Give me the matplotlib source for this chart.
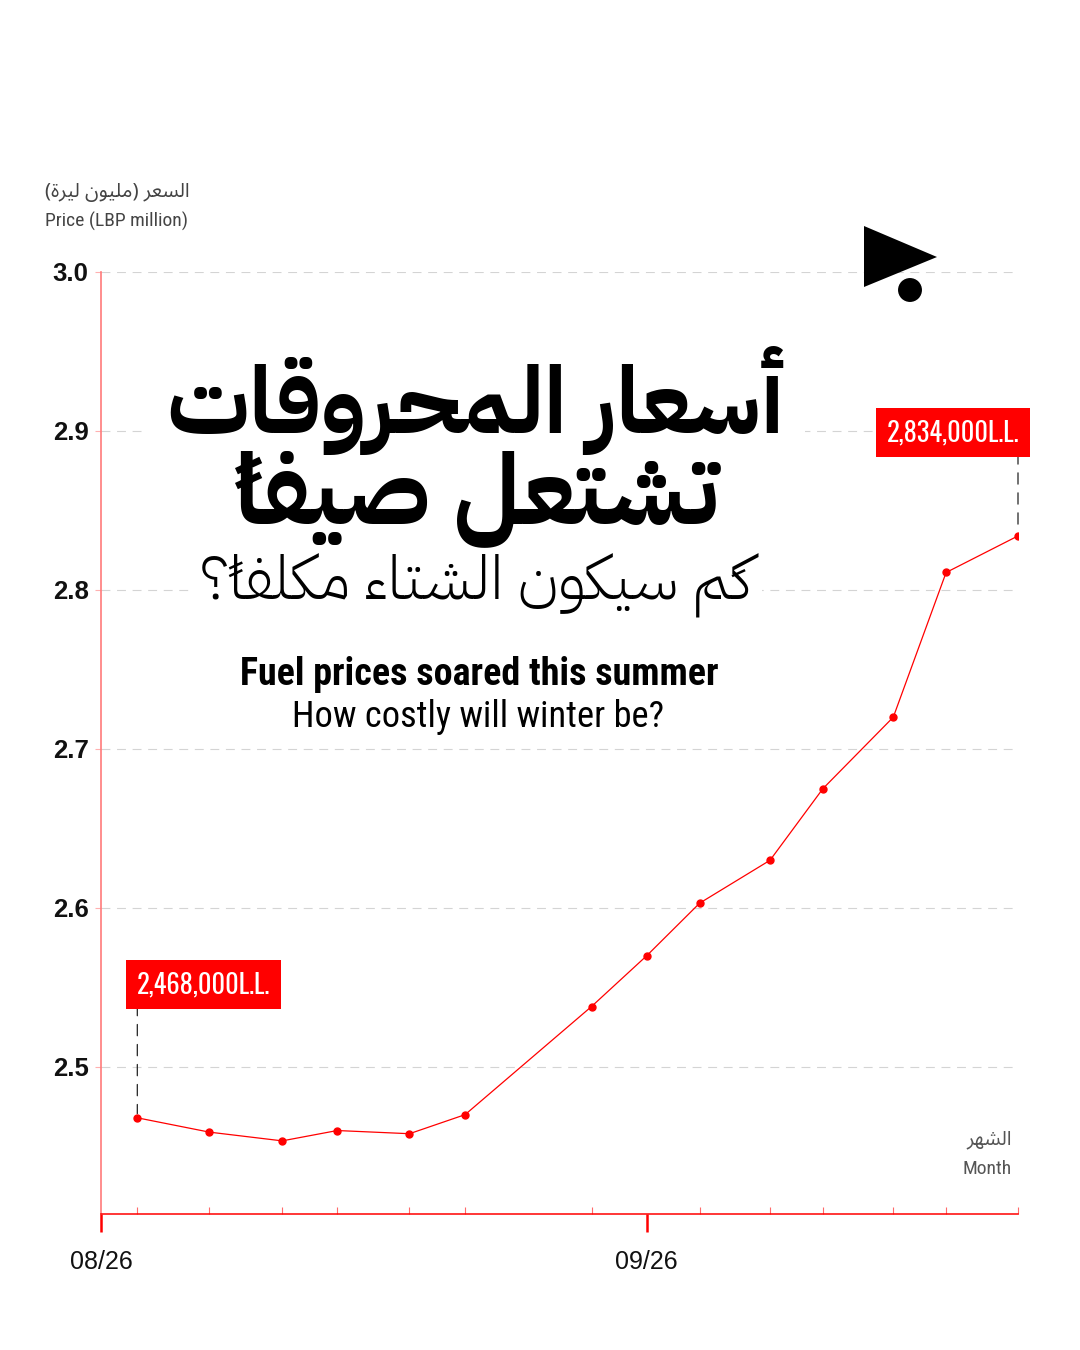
import matplotlib
matplotlib.use("Agg")
import matplotlib.pyplot as plt
import matplotlib.dates as mdates
from matplotlib.patches import Polygon, Circle, Rectangle
from matplotlib.ticker import FixedLocator, FormatStrFormatter
import pandas as pd

# ---------------- data ----------------
dates = ["2024-08-28 01:30", "2024-09-01 03:40", "2024-09-05 07:00", "2024-09-08 10:00",
         "2024-09-12 12:30", "2024-09-15 16:20", "2024-09-22 20:40", "2024-09-26 00:00",
         "2024-09-29 00:00", "2024-10-03 00:00", "2024-10-06 00:00", "2024-10-10 00:00",
         "2024-10-13 00:00", "2024-10-17 02:00"]
prices = [2.468, 2.459, 2.4535, 2.460, 2.458, 2.470, 2.538, 2.570,
          2.603, 2.630, 2.675, 2.720, 2.811, 2.834]
x_start = "2024-08-26"
major_dates = ["2024-08-26", "2024-09-26"]
y_ticks = [2.5, 2.6, 2.7, 2.8, 2.9, 3.0]
y_min, y_max = 2.4075, 3.0

title_ar_1 = "أسعار المحروقات"
title_ar_2 = "تشتعل صيفاً"
subtitle_ar = "كَم سيكون الشتاء مكلفاً؟"
title_en = "Fuel prices soared this summer"
subtitle_en = "How costly will winter be?"
ylabel_ar = "السعر (مليون ليرة)"
ylabel_en = "Price (LBP million)"
xlabel_ar = "الشهر"
xlabel_en = "Month"

RED = "#ff0000"

# ---------------- minimal Arabic shaping (presentation forms) ----------------
_FORMS = {
    '\u0621': (0xFE80, 1), '\u0622': (0xFE81, 2), '\u0623': (0xFE83, 2), '\u0624': (0xFE85, 2),
    '\u0625': (0xFE87, 2), '\u0626': (0xFE89, 4), '\u0627': (0xFE8D, 2), '\u0628': (0xFE8F, 4),
    '\u0629': (0xFE93, 2), '\u062A': (0xFE95, 4), '\u062B': (0xFE99, 4), '\u062C': (0xFE9D, 4),
    '\u062D': (0xFEA1, 4), '\u062E': (0xFEA5, 4), '\u062F': (0xFEA9, 2), '\u0630': (0xFEAB, 2),
    '\u0631': (0xFEAD, 2), '\u0632': (0xFEAF, 2), '\u0633': (0xFEB1, 4), '\u0634': (0xFEB5, 4),
    '\u0635': (0xFEB9, 4), '\u0636': (0xFEBD, 4), '\u0637': (0xFEC1, 4), '\u0638': (0xFEC5, 4),
    '\u0639': (0xFEC9, 4), '\u063A': (0xFECD, 4), '\u0641': (0xFED1, 4), '\u0642': (0xFED5, 4),
    '\u0643': (0xFED9, 4), '\u0644': (0xFEDD, 4), '\u0645': (0xFEE1, 4), '\u0646': (0xFEE5, 4),
    '\u0647': (0xFEE9, 4), '\u0648': (0xFEED, 2), '\u0649': (0xFEEF, 2), '\u064A': (0xFEF1, 4),
}
_LAMALEF = {'\u0622': 0xFEF5, '\u0623': 0xFEF7, '\u0625': 0xFEF9, '\u0627': 0xFEFB}
_MIRROR = {'(': ')', ')': '('}


def _is_mark(c):
    return '\u064B' <= c <= '\u0652' or c == '\u0670'


def shape_ar(text):
    clusters = []
    for c in text:
        if _is_mark(c) and clusters:
            clusters[-1][1].append(c)
        else:
            clusters.append([c, []])
    out = []
    prev_joins = False
    i, n = 0, len(clusters)
    while i < n:
        c, marks = clusters[i]
        if c == '\u0644' and i + 1 < n and clusters[i + 1][0] in _LAMALEF:
            g = _LAMALEF[clusters[i + 1][0]] + (1 if prev_joins else 0)
            out.append((chr(g), marks + clusters[i + 1][1]))
            prev_joins = False
            i += 2
            continue
        if c in _FORMS:
            base, k = _FORMS[c]
            nxt = clusters[i + 1][0] if i + 1 < n else None
            jn = k == 4 and nxt in _FORMS
            jp = prev_joins and k >= 2
            if k == 1:
                g = base
            elif k == 2:
                g = base + (1 if jp else 0)
            else:
                g = base + (3 if (jp and jn) else 1 if jp else 2 if jn else 0)
            out.append((chr(g), marks))
            prev_joins = jn
        else:
            out.append((_MIRROR.get(c, c), marks))
            prev_joins = False
        i += 1
    # visual order (left to right); marks drawn just before their base glyph
    return ''.join(''.join(m) + g for g, m in reversed(out))


# ---------------- figure ----------------
W, H, DPI = 1080, 1350, 100
fig = plt.figure(figsize=(W / DPI, H / DPI), dpi=DPI, facecolor="white")
ax = fig.add_axes([101 / W, 1 - 1214 / H, (1018 - 101) / W, (1214 - 272) / H])

x = pd.to_datetime(dates)
ax.plot(x, prices, color=RED, lw=0.9, marker="o", ms=5, mec=RED, mfc=RED, zorder=3)

ax.set_xlim(pd.Timestamp(x_start), x[-1])
ax.set_ylim(y_min, y_max)

for s in ["top", "right"]:
    ax.spines[s].set_visible(False)
ax.spines["left"].set_color("#ff7a7a")
ax.spines["left"].set_linewidth(1.2)
ax.spines["bottom"].set_color(RED)
ax.spines["bottom"].set_linewidth(1.1)

ax.xaxis.set_major_locator(FixedLocator(mdates.date2num(pd.to_datetime(major_dates))))
ax.xaxis.set_major_formatter(mdates.DateFormatter("%m/%d"))
ax.xaxis.set_minor_locator(FixedLocator(mdates.date2num(x)))
ax.tick_params(axis="x", which="major", direction="out", length=13, width=1.8, color=RED,
               pad=13, labelsize=18, labelcolor="#111111")
ax.tick_params(axis="x", which="minor", direction="in", length=5, width=0.8, color="#ff6a6a")
for lab in ax.get_xticklabels():
    lab.set_fontfamily("Liberation Sans")

ax.yaxis.set_major_locator(FixedLocator(y_ticks))
ax.yaxis.set_major_formatter(FormatStrFormatter("%.1f"))
ax.tick_params(axis="y", which="major", direction="out", length=4, width=0.8, color="#ffb0b0",
               pad=5, labelsize=18.5, labelcolor="#111111")
for lab in ax.get_yticklabels():
    lab.set_fontfamily("Liberation Sans")
    lab.set_fontweight("bold")

ax.yaxis.grid(True, color="#d4d4d4", lw=0.8, linestyle=(0, (8, 6)))
ax.set_axisbelow(True)

# ---------------- annotations ----------------
def price_label(v):
    return f"{int(round(v * 1e6)):,}L.L."

# (index, label-centre offset in points)
ann_specs = [(0, (47.5, 96)), (len(prices) - 1, (-46.8, 74.2))]
for idx, off in ann_specs:
    ax.annotate("", xy=(x[idx], prices[idx]), xytext=(0, off[1]), textcoords="offset points",
                arrowprops=dict(arrowstyle="-", color="#222222", lw=0.9,
                                linestyle=(0, (9, 7)), shrinkA=0, shrinkB=3),
                zorder=4, annotation_clip=False)
    ax.annotate(price_label(prices[idx]), xy=(x[idx], prices[idx]), xytext=off,
                textcoords="offset points", ha="center", va="center",
                fontsize=19, family="Oswald", color="white",
                bbox=dict(boxstyle="square,pad=0.42", fc=RED, ec="none"),
                zorder=5, annotation_clip=False)

# ---------------- texts ----------------
def fx(px):
    return px / W

def fy(py):
    return 1 - py / H

renderer = fig.canvas.get_renderer()

def fit_width(t, target):
    w = t.get_window_extent(renderer).width
    t.set_fontsize(t.get_fontsize() * target / w)

def white_under(t, padx):
    bb = t.get_window_extent(renderer)
    fig.add_artist(Rectangle(((bb.x0 - padx) / W, bb.y0 / H), (bb.width + 2 * padx) / W, bb.height / H,
                             transform=fig.transFigure, fc="white", ec="none", zorder=9))

AR_TITLE = "IBM Plex Sans Arabic"

t1 = fig.text(fx(476), fy(433), shape_ar(title_ar_1), ha="center", va="baseline",
              family=AR_TITLE, weight="bold", fontsize=60, color="black", zorder=10)
fit_width(t1, 618)
t2 = fig.text(fx(477), fy(523), shape_ar(title_ar_2), ha="center", va="baseline",
              family=AR_TITLE, weight="bold", fontsize=60, color="black", zorder=10)
fit_width(t2, 484)
t3 = fig.text(fx(476), fy(599), shape_ar(subtitle_ar), ha="center", va="baseline",
              family=AR_TITLE, weight=300, fontsize=30, color="black", zorder=10)
fit_width(t3, 552)
for t, p in [(t1, 20), (t2, 10), (t3, 10)]:
    white_under(t, p)

t4 = fig.text(fx(479.5), fy(685), title_en, ha="center", va="baseline",
              family="Roboto Condensed", weight="bold", fontsize=26, color="black")
fit_width(t4, 479)
t5 = fig.text(fx(478.5), fy(727), subtitle_en, ha="center", va="baseline",
              family="Roboto Condensed", fontsize=24, color="black")
fit_width(t5, 372)

ty1 = fig.text(fx(45), fy(197), shape_ar(ylabel_ar), ha="left", va="baseline",
               family="Noto Sans Arabic", fontsize=13, color="#444444")
fit_width(ty1, 145)
fig.text(fx(45), fy(227), ylabel_en, ha="left", va="baseline",
         family="Roboto Condensed", fontsize=14, color="#444444")
tx1 = fig.text(fx(1012), fy(1144), shape_ar(xlabel_ar), ha="right", va="baseline",
               family="Noto Sans Arabic", fontsize=13, color="#555555")
fit_width(tx1, 46)
fig.text(fx(1012), fy(1174), xlabel_en, ha="right", va="baseline",
         family="Roboto Condensed", fontsize=14, color="#555555")

# ---------------- logo ----------------
tri = Polygon([(864 / DPI, (H - 226) / DPI), (864 / DPI, (H - 287) / DPI), (937 / DPI, (H - 257) / DPI)],
              closed=True, fc="black", ec="none", transform=fig.dpi_scale_trans, zorder=20)
dot = Circle((910 / DPI, (H - 290) / DPI), 12.8 / DPI, fc="black", ec="white", lw=1.2,
             transform=fig.dpi_scale_trans, zorder=21)
fig.add_artist(tri)
fig.add_artist(dot)

fig.savefig("out.png", dpi=DPI, facecolor="white")
